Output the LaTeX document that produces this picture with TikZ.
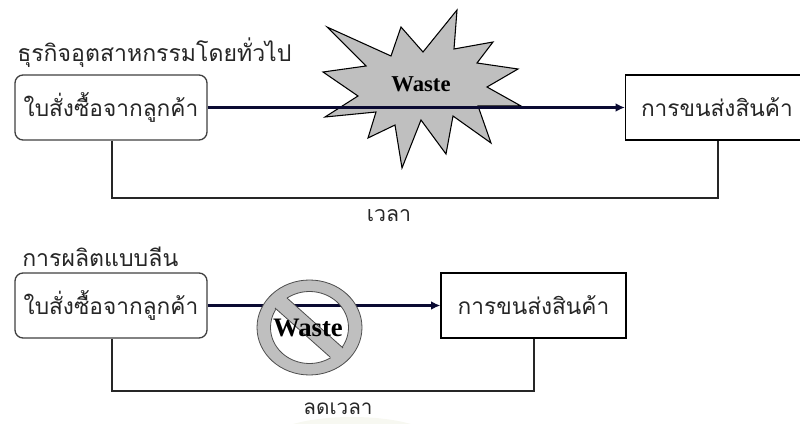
\documentclass[tikz,border=0pt]{standalone}
\usepackage{fontspec}
\usetikzlibrary{arrows.meta,calc}
\newfontfamily\thaifont[Script=Thai]{Loma}
\setmainfont{Liberation Serif}
\definecolor{inkline}{RGB}{10,10,50}
\definecolor{paleback}{RGB}{247,248,241}
\tikzset{
  x=0.75pt,y=-0.75pt,
  thaitext/.style={font=\thaifont\fontsize{17.3}{20}\selectfont,inner sep=0pt,text=black!85},
  roundbox/.style={draw=black!75,line width=1pt,rounded corners=6pt,fill=white,minimum width=144pt,minimum height=48.75pt,inner sep=0pt,font=\thaifont\fontsize{17}{20}\selectfont,text=black!85},
  plainbox/.style={draw=black,line width=0.8pt,fill=white,inner sep=0pt,font=\thaifont\fontsize{17}{20}\selectfont,text=black!85},
  flow/.style={draw=inkline,line width=1.9pt,-{Latex[length=7pt,width=6.5pt]}},
  loopline/.style={draw=black!85,line width=0.8pt},
  starshape/.style={draw=black,fill=black!25,line width=0.8pt},
  banring/.style={draw=black!70,fill=black!25,line width=0.6pt,even odd rule},
  banedge/.style={draw=black!70,line width=0.6pt},
}
\begin{document}
\begin{tikzpicture}
\useasboundingbox (0,0) rectangle (800,424);
\begin{scope}
\clip (0,0) rectangle (800,424);
\fill[paleback] (352,442) ellipse[x radius=85,y radius=25];
\end{scope}
\node[thaitext,anchor=west] (t1) at (17,53) {ธุรกิจอุตสาหกรรมโดยทั่วไป};
\node[thaitext,anchor=west] (t2) at (22,257) {การผลิตแบบลีน};
\node[roundbox] (a1) at (111,107.5) {ใบสั่งซื้อจากลูกค้า};
\node[roundbox] (a2) at (111,305.5) {ใบสั่งซื้อจากลูกค้า};
\node[plainbox,minimum width=135pt,minimum height=48.75pt,anchor=west] (b1) at (625,107.5) {\hspace{2pt}การขนส่งสินค้า};
\node[plainbox,minimum width=138.75pt,minimum height=48.75pt] (b2) at (533.5,305.5) {การขนส่งสินค้า};
\coordinate (s1) at (112,140);
\coordinate (e1) at (718,140);
\coordinate (s2) at (112,338);
\coordinate (e2) at (534,338);
\draw[loopline] (a1.south -| s1) -- (112,198) -- (718,198) -- (b1.south -| e1);
\draw[loopline] (a2.south -| s2) -- (112,391) -- (534,391) -- (b2.south -| e2);
\node[thaitext,font=\thaifont\fontsize{16}{19}\selectfont] (l1) at (389,216) {เวลา};
\node[thaitext,font=\thaifont\fontsize{15.5}{18}\selectfont] (l2) at (338,409) {ลดเวลา};
\draw[starshape]
 (327,27)--(391,56)--(401,27)--(423,52)--(457,10)--(454,49)--(493,42)--(477,63)--(518,69)--(487,87)--(521,106)--(478,106)--(491,143)--(453,116)--(446,154)--(421,120)--(402,168)--(395,125)--(368,138)--(376,112)--(325,117)--(358,96)--(323,72)--(366,66)--cycle;
\draw[flow] (a1.east) -- (b1.west);
\draw[flow] (a2.east) -- (b2.west);
\node[font=\bfseries\fontsize{17}{20}\selectfont] (w1) at (421,84) {Waste};
\draw[banring]
 (309.5,327.5) ellipse[x radius=52.5,y radius=47.5]
 (309.5,327.5) ellipse[x radius=39,y radius=36];
\fill[black!25] (283.5,295) -- (346.5,351) -- (333.5,360) -- (271.5,305) -- cycle;
\draw[banedge] (287,298) -- (343,348);
\draw[banedge] (275,308) -- (330,357);
\node[font=\bfseries\fontsize{20}{24}\selectfont] (w2) at (308,328) {Waste};
\end{tikzpicture}
\end{document}
